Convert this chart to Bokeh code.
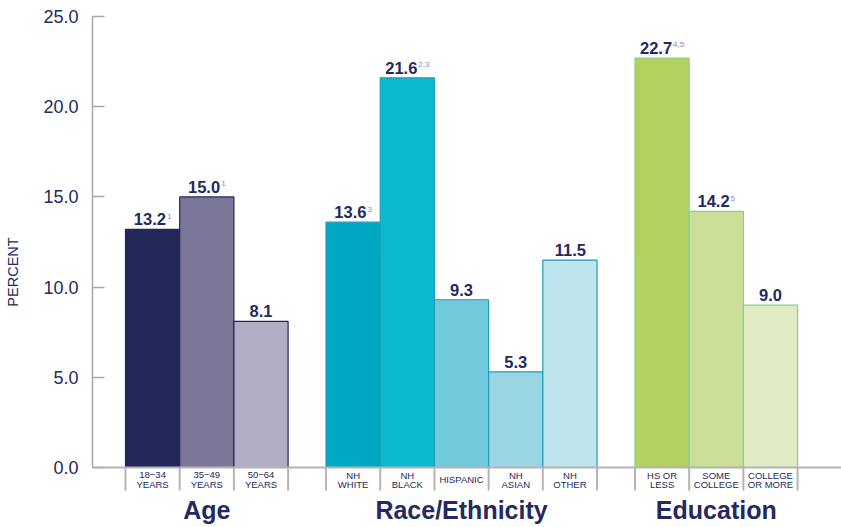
from bokeh.plotting import figure
from bokeh.models import Range1d, SingleIntervalTicker, Span, NumeralTickFormatter
from bokeh.core.properties import value
from bokeh.embed import file_html
from bokeh.resources import INLINE

# ---------------- data ----------------
group_names = ["Age", "Race/Ethnicity", "Education"]

age_cats = ["18\u221234\nYEARS", "35\u221249\nYEARS", "50\u221264\nYEARS"]
age_values = [13.2, 15.0, 8.1]
age_notes = ["1", "1", ""]

race_cats = ["NH\nWHITE", "NH\nBLACK", "HISPANIC", "NH\nASIAN", "NH\nOTHER"]
race_values = [13.6, 21.6, 9.3, 5.3, 11.5]
race_notes = ["3", "2,3", "", "", ""]

edu_cats = ["HS OR\nLESS", "SOME\nCOLLEGE", "COLLEGE\nOR MORE"]
edu_values = [22.7, 14.2, 9.0]
edu_notes = ["4,5", "5", ""]

y_ticks_step = 5
y_max = 25

# ---------------- styles ----------------
age_colors = ["#23275a", "#7a7698", "#b0aec4"]
race_colors = ["#00a9c3", "#0bb9d1", "#72c9db", "#9ad5e3", "#bee4ed"]
edu_colors = ["#b2d15d", "#cbdf98", "#e0ebc4"]
outline_colors = ["#23275a", "#1d9dbf", "#86d094"]
NAVY = "#24295e"
NOTE_COLOR = "#8c8fa9"
GRAY = "#b4b4b4"
FONT = "Liberation Sans"

W, H = 841, 527
LEFT, TOP, BOTTOM = 92, 16, 0
PX_PER_BAR = 54.2
GAP = 0.70
PX_PER_Y = 451 / 25.0
ZERO_PX = 467          # pixel row of the zero line

frame_w = W - LEFT
frame_h = H - TOP - BOTTOM
x_start = -33 / PX_PER_BAR
x_end = x_start + frame_w / PX_PER_BAR
y_start = y_max - frame_h / PX_PER_Y

p = figure(width=W, height=H, output_backend="svg", toolbar_location=None,
           x_range=Range1d(x_start, x_end), y_range=Range1d(y_start, y_max),
           min_border_left=LEFT, min_border_top=TOP, min_border_bottom=BOTTOM,
           min_border_right=0)
p.outline_line_color = None
p.grid.visible = False
p.xaxis.visible = False

ya = p.yaxis[0]
ya.bounds = (0, y_max)
ya.ticker = SingleIntervalTicker(interval=y_ticks_step)
ya.formatter = NumeralTickFormatter(format="0.0")
ya.axis_line_color = "#a8a8a8"
ya.axis_line_width = 1.5
ya.major_tick_line_color = "#a8a8a8"
ya.major_tick_line_width = 1.5
ya.major_tick_in = 12
ya.major_tick_out = 0
ya.minor_tick_line_color = None
ya.major_label_standoff = 10
ya.major_label_text_font = FONT
ya.major_label_text_font_size = "18px"
ya.major_label_text_color = NAVY
ya.axis_label = "PERCENT"
ya.axis_label_text_font = FONT
ya.axis_label_text_font_size = "14.5px"
ya.axis_label_text_font_style = "normal"
ya.axis_label_text_color = NAVY
ya.axis_label_standoff = 19

groups = [
    (age_cats, age_values, age_notes, age_colors),
    (race_cats, race_values, race_notes, race_colors),
    (edu_cats, edu_values, edu_notes, edu_colors),
]

def est_width(s, fs):
    w = 0.0
    for ch in s:
        if ch.isdigit():
            w += 0.556
        elif ch in ".,":
            w += 0.278
        else:
            w += 0.6
    return w * fs

VAL_FS = 16.5
NOTE_FS = 8

seps = []
cursor = 0.0
group_centers = []
for gi, (cats, vals, notes, cols) in enumerate(groups):
    n = len(cats)
    lefts = [cursor + i for i in range(n)]
    centers = [l + 0.5 for l in lefts]
    p.vbar(x=centers, top=vals, bottom=0, width=1.0, fill_color=cols,
           line_color=outline_colors[gi], line_width=1.2)
    seps.extend(lefts + [cursor + n])
    group_centers.append(cursor + n / 2)

    # value labels (number + superscript note, centered as a unit)
    offs = []
    for v, nt in zip(vals, notes):
        wm = est_width(f"{v:.1f}", VAL_FS)
        ws = est_width(nt, NOTE_FS) + 1 if nt else 0
        offs.append((wm - ws) / 2)
    p.text(x=centers, y=vals, text=[f"{v:.1f}" for v in vals],
           x_offset=offs, y_offset=-10, text_align="right",
           text_baseline="alphabetic", text_font=value(FONT),
           text_font_style="bold", text_font_size=f"{VAL_FS}px",
           text_color=NAVY)
    p.text(x=centers, y=vals, text=notes,
           x_offset=[o + 1 for o in offs], y_offset=-13, text_align="left",
           text_baseline="alphabetic", text_font=value(FONT),
           text_font_size=f"{NOTE_FS}px", text_color=NOTE_COLOR)

    # category labels below the baseline
    for c, lab in zip(centers, cats):
        lines = lab.split("\n")
        if len(lines) == 2:
            p.text(x=[c, c], y=[0, 0], text=lines, y_offset=[7.5, 16.5],
                   text_align="center", text_baseline="alphabetic",
                   text_font=value(FONT), text_font_size="9.5px",
                   text_color=NAVY)
        else:
            p.text(x=[c], y=[0], text=lines, y_offset=[11.5],
                   text_align="center", text_baseline="alphabetic",
                   text_font=value(FONT), text_font_size="9.5px",
                   text_color=NAVY)
    cursor += n + GAP

# separators below the baseline
sep_len = 23 / PX_PER_Y
p.segment(x0=seps, y0=[0] * len(seps), x1=seps, y1=[-sep_len] * len(seps),
          line_color=GRAY, line_width=2)

# baseline
p.add_layout(Span(location=0, dimension="width", line_color=GRAY, line_width=2))

# group labels
p.text(x=group_centers, y=[0] * 3, text=group_names, y_offset=42,
       text_align="center", text_baseline="alphabetic", text_font=value(FONT),
       text_font_style="bold", text_font_size="25px", text_color=NAVY)

open("out.html", "w").write(file_html(p, INLINE))
